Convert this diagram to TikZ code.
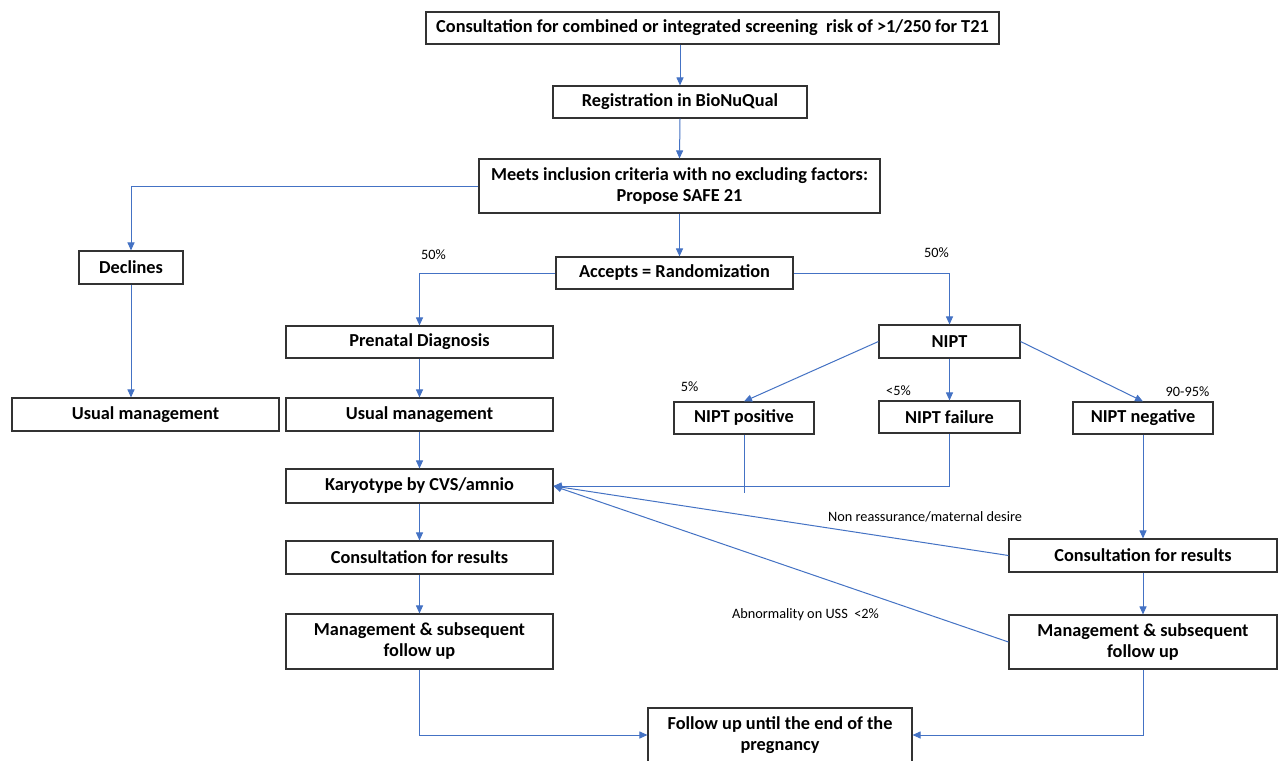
\documentclass[tikz,border=0pt]{standalone}
\usepackage{fontspec}
\setmainfont{Carlito}
\usetikzlibrary{arrows.meta,calc}
\definecolor{lineblue}{RGB}{68,114,196}
\definecolor{boxgray}{RGB}{50,50,50}
\tikzset{
  box/.style={draw=boxgray, line width=1.1pt, fill=white, inner sep=0pt, align=center,
    font=\fontsize{18.3}{21}\selectfont\bfseries, text=black},
  conn/.style={draw=lineblue, line width=1pt},
  arr/.style={conn, -{Triangle[length=8pt,width=7pt]}},
  lbl/.style={font=\fontsize{14.3}{16}\selectfont, text=black, inner sep=0pt}
}
\begin{document}
\begin{tikzpicture}[x=1pt,y=-1pt]
\clip (0,0) rectangle (1279,760);
\fill[white] (0,0) rectangle (1279,760);
% boxes
\node[box, minimum width=573pt, minimum height=32pt] (b1) at (712.5,28) {Consultation for combined or integrated screening\ \ risk of >1/250 for T21};
\node[box, minimum width=254pt, minimum height=32pt] (b2) at (680,102) {Registration in BioNuQual};
\node[box, minimum width=401pt, minimum height=54pt] (b3) at (679.5,186) {Meets inclusion criteria with no excluding factors:\\Propose SAFE 21};
\node[box, minimum width=104pt, minimum height=33pt] (dec) at (131,267.5) {Declines};
\node[box, minimum width=237pt, minimum height=32pt] (acc) at (674.5,273) {Accepts = Randomization};
\node[box, minimum width=267pt, minimum height=33pt] (um1) at (145.5,414.5) {Usual management};
\node[box, minimum width=267pt, minimum height=32pt] (pd) at (419.5,342) {Prenatal Diagnosis};
\node[box, minimum width=267pt, minimum height=33pt] (um2) at (419.5,414.5) {Usual management};
\node[box, minimum width=267pt, minimum height=34pt] (kar) at (419.5,486) {Karyotype by CVS/amnio};
\node[box, minimum width=267pt, minimum height=33pt] (cr1) at (419.5,557.5) {Consultation for results};
\node[box, minimum width=267pt, minimum height=55pt] (mg1) at (419.5,641.5) {Management \& subsequent\\follow up};
\node[box, minimum width=141pt, minimum height=33pt] (nipt) at (949.5,341.5) {NIPT};
\node[box, minimum width=140pt, minimum height=32pt] (np) at (744,418) {NIPT positive};
\node[box, minimum width=141pt, minimum height=32pt] (nf) at (949.5,417) {NIPT failure};
\node[box, minimum width=140pt, minimum height=32pt] (nn) at (1143,418) {NIPT negative};
\node[box, minimum width=268pt, minimum height=33pt] (cr2) at (1143,555.5) {Consultation for results};
\node[box, minimum width=268pt, minimum height=54pt] (mg2) at (1143,642) {Management \& subsequent\\follow up};
\node[box, minimum width=264pt, minimum height=54pt] (fu) at (780,735) {Follow up until the end of the\\pregnancy};
\coordinate (npend) at (744,493);
% connectors
\draw[arr] (b2.north |- b1.south) -- (b2.north);
\draw[arr] (b2.south) -- (b3.north);
\draw[arr] (b3.west) -| (dec.north);
\draw[arr] (b3.south) -- (b3.south |- acc.north);
\draw[arr] (dec.south) -- (dec.south |- um1.north);
\draw[arr] (acc.west) -| (pd.north);
\draw[arr] (acc.east) -| (nipt.north);
\draw[arr] (pd.south) -- (um2.north);
\draw[arr] (um2.south) -- (kar.north);
\draw[arr] (kar.south) -- (cr1.north);
\draw[arr] (cr1.south) -- (mg1.north);
\draw[arr] (mg1.south) |- (fu.west);
\draw[arr] (mg2.south) |- (fu.east);
\draw[arr] (nipt.west) -- (np.north);
\draw[arr] (nipt.south) -- (nf.north);
\draw[arr] (nipt.east) -- (nn.north);
\draw[conn] (np.south) -- (npend);
\draw[arr] (nf.south) |- (kar.east);
\draw[arr] (nn.south) -- (cr2.north);
\draw[arr] (cr2.south) -- (mg2.north);
\draw[arr] (cr2.west) -- (kar.east);
\draw[arr] (mg2.west) -- (kar.east);
% labels
\node[lbl] (l1) at (433.5,255) {50\%};
\node[lbl] (l2) at (936.5,253) {50\%};
\node[lbl] (l3) at (689.5,387) {5\%};
\node[lbl] (l4) at (898.5,391) {<5\%};
\node[lbl] (l5) at (1187.5,392) {90-95\%};
\node[lbl] (l6) at (925,517) {Non reassurance/maternal desire};
\node[lbl] (l7) at (805.5,615) {Abnormality on USS\ \ <2\%};
\end{tikzpicture}
\end{document}
